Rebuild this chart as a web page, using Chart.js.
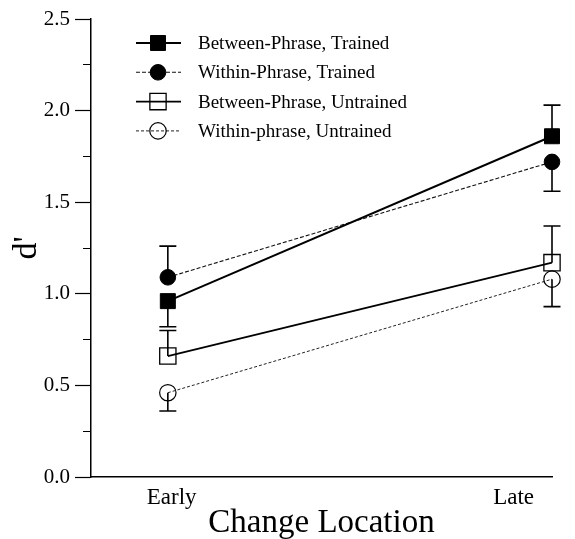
<!DOCTYPE html>
<html>
<head>
<meta charset="utf-8">
<script src="https://cdn.jsdelivr.net/npm/chart.js@4/dist/chart.umd.min.js"></script>
<style>
  html, body { margin: 0; padding: 0; background: #fff; }
  #wrap { width: 575px; height: 539px; }
</style>
</head>
<body>
<div id="wrap"><canvas id="c" width="575" height="539"></canvas></div>
<script>
// ---- data ----
const categories = ['Early', 'Late'];
const xTickLabels = ['Early', 'Late'];
const seriesNames = ['Between-Phrase, Trained', 'Within-Phrase, Trained', 'Between-Phrase, Untrained', 'Within-phrase, Untrained'];

const betweenTrained   = [0.96, 1.86];
const withinTrained    = [1.09, 1.72];
const betweenUntrained = [0.66, 1.17];
const withinUntrained  = [0.46, 1.08];

// error bars (only the outward half is drawn in the figure)
const betweenTrainedErrUp   = [0,    0.17];
const betweenTrainedErrDown = [0.14, 0];
const withinTrainedErrUp    = [0.17, 0];
const withinTrainedErrDown  = [0,    0.16];
const betweenUntrainedErrUp   = [0.14, 0.20];
const betweenUntrainedErrDown = [0,    0];
const withinUntrainedErrUp    = [0,    0];
const withinUntrainedErrDown  = [0.10, 0.15];

const yTickValues = [0, 0.5, 1.0, 1.5, 2.0, 2.5];

// ---- build datasets ----
function pts(arr) { return arr.map((v, i) => ({ x: i, y: v })); }
const SERIF = "'Liberation Serif', 'Times New Roman', serif";

const datasets = [
  { label: seriesNames[0], data: pts(betweenTrained), errUp: betweenTrainedErrUp, errDown: betweenTrainedErrDown,
    borderColor: '#000', borderWidth: 2, pointStyle: 'rect', pointRadius: 10.6,
    pointBackgroundColor: '#000', pointBorderColor: '#000', pointBorderWidth: 1, legendRadius: 10.6 },
  { label: seriesNames[1], data: pts(withinTrained), errUp: withinTrainedErrUp, errDown: withinTrainedErrDown,
    borderColor: '#111', borderWidth: 1.1, borderDash: [4, 2], pointStyle: 'circle', pointRadius: 7.8,
    pointBackgroundColor: '#000', pointBorderColor: '#000', pointBorderWidth: 1, legendRadius: 7.8 },
  { label: seriesNames[2], data: pts(betweenUntrained), errUp: betweenUntrainedErrUp, errDown: betweenUntrainedErrDown,
    borderColor: '#000', borderWidth: 1.8, pointStyle: 'rect', pointRadius: 11.5,
    pointBackgroundColor: 'rgba(0,0,0,0)', pointBorderColor: '#000', pointBorderWidth: 1.3, legendRadius: 11.5 },
  { label: seriesNames[3], data: pts(withinUntrained), errUp: withinUntrainedErrUp, errDown: withinUntrainedErrDown,
    borderColor: '#222', borderWidth: 1, borderDash: [3, 2], pointStyle: 'circle', pointRadius: 8.2,
    pointBackgroundColor: 'rgba(0,0,0,0)', pointBorderColor: '#000', pointBorderWidth: 1.2, legendRadius: 8.2 }
].map(d => Object.assign({ tension: 0, clip: false, pointHoverRadius: d.pointRadius }, d));

// ---- error bars plugin ----
const errorBars = {
  id: 'errorBars',
  afterDatasetsDraw(chart) {
    const { ctx } = chart;
    const y = chart.scales.y;
    chart.data.datasets.forEach((ds, i) => {
      const meta = chart.getDatasetMeta(i);
      meta.data.forEach((pt, j) => {
        const v = ds.data[j].y;
        [[ds.errUp[j], 1], [ds.errDown[j], -1]].forEach(([e, s]) => {
          if (!e) return;
          const yEnd = y.getPixelForValue(v + s * e);
          ctx.save();
          ctx.strokeStyle = '#000';
          ctx.lineWidth = 1.6;
          ctx.beginPath();
          ctx.moveTo(pt.x, pt.y);
          ctx.lineTo(pt.x, yEnd);
          ctx.moveTo(pt.x - 8.5, yEnd);
          ctx.lineTo(pt.x + 8.5, yEnd);
          ctx.stroke();
          ctx.restore();
        });
      });
    });
  }
};

// ---- legend plugin (line + marker + text) ----
const lineLegend = {
  id: 'lineLegend',
  afterDraw(chart) {
    const { ctx } = chart;
    const x0 = 136, x1 = 181, xm = 158, xt = 198, yStart = 43, dy = 29.3;
    chart.data.datasets.forEach((ds, i) => {
      const yy = yStart + i * dy;
      ctx.save();
      ctx.strokeStyle = ds.borderColor;
      ctx.lineWidth = ds.borderWidth;
      ctx.setLineDash(ds.borderDash || []);
      ctx.beginPath();
      ctx.moveTo(x0, yy); ctx.lineTo(x1, yy); ctx.stroke();
      ctx.setLineDash([]);
      ctx.fillStyle = ds.pointBackgroundColor;
      ctx.strokeStyle = ds.pointBorderColor;
      ctx.lineWidth = ds.pointBorderWidth;
      Chart.helpers.drawPoint(ctx, { pointStyle: ds.pointStyle, radius: ds.legendRadius, rotation: 0, borderWidth: ds.pointBorderWidth }, xm, yy);
      ctx.fillStyle = '#000';
      ctx.font = '19px ' + SERIF;
      ctx.textBaseline = 'middle';
      ctx.textAlign = 'left';
      ctx.fillText(ds.label, xt, yy + 1);
      ctx.restore();
    });
  }
};

new Chart(document.getElementById('c'), {
  type: 'line',
  data: { datasets },
  options: {
    responsive: false,
    animation: false,
    devicePixelRatio: 1,
    layout: { padding: { left: 0, top: 19, right: 23, bottom: 0 } },
    plugins: { legend: { display: false }, tooltip: { enabled: false } },
    scales: {
      x: {
        type: 'linear', min: -0.2, max: 1.0,
        afterBuildTicks(scale) { scale.ticks = [{ value: 0.01 }, { value: 0.9 }]; },
        afterFit(scale) { scale.height = 62; },
        ticks: {
          callback: (v, i) => xTickLabels[i],
          font: { family: SERIF, size: 23 }, color: '#000', padding: 7, maxRotation: 0, autoSkip: false
        },
        grid: { display: true, drawOnChartArea: false, drawTicks: false },
        border: { display: true, color: '#000', width: 1.5 },
        title: { display: true, text: 'Change Location', font: { family: SERIF, size: 33 }, color: '#000', padding: { top: 0, bottom: -4 } }
      },
      y: {
        type: 'linear', min: 0, max: 2.5, weight: 1,
        afterBuildTicks(scale) { scale.ticks = yTickValues.map(v => ({ value: v })); },
        afterFit(scale) { scale.width = 91; },
        ticks: { callback: v => v.toFixed(1), font: { family: SERIF, size: 21 }, color: '#000', padding: 5 },
        grid: { drawOnChartArea: false, drawTicks: true, tickLength: 16, tickColor: '#000', tickWidth: 1.2 },
        border: { display: true, color: '#000', width: 1.5 },
        title: { display: true, text: "d'", font: { family: SERIF, size: 34 }, color: '#000', padding: { top: 7, bottom: 0 } }
      },
      yMinor: {
        type: 'linear', position: 'left', min: 0, max: 2.5, weight: 0,
        afterFit(scale) { scale.width = 0; },
        ticks: { stepSize: 0.25, autoSkip: false, maxTicksLimit: 20, callback: () => '', padding: 0 },
        grid: { drawOnChartArea: false, drawTicks: true, tickLength: 8, tickColor: '#000', tickWidth: 1 },
        border: { display: false }
      }
    }
  },
  plugins: [errorBars, lineLegend]
});
</script>
</body>
</html>
